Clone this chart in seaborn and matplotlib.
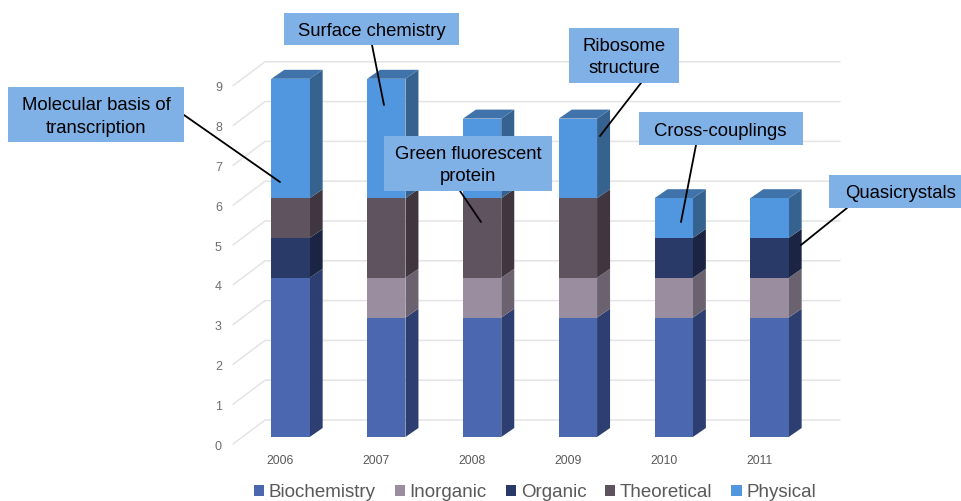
import numpy as np
import matplotlib
matplotlib.use("Agg")
import matplotlib.pyplot as plt
from matplotlib.patches import Polygon, Rectangle
from matplotlib.lines import Line2D
from matplotlib.transforms import ScaledTranslation
import seaborn as sns

sns.set_style("white")
plt.rcParams['font.family'] = ['Liberation Sans', 'DejaVu Sans']

years = ["2006", "2007", "2008", "2009", "2010", "2011"]
biochemistry = [4, 3, 3, 3, 3, 3]
inorganic = [0, 1, 1, 1, 1, 1]
organic = [1, 0, 0, 0, 1, 1]
theoretical = [1, 2, 2, 2, 0, 0]
physical = [3, 3, 2, 2, 1, 1]

names = ["Biochemistry", "Inorganic", "Organic", "Theoretical", "Physical"]
series = [biochemistry, inorganic, organic, theoretical, physical]
front = ["#4A67AF", "#9B8DA0", "#2A3A68", "#5F535F", "#5097DF"]
side = ["#2C3F70", "#6B6270", "#1B2443", "#3F363F", "#36628F"]
top_colour = "#3F73A9"
yticks = list(range(10))

W, H = 962, 501
fig = plt.figure(figsize=(W / 100, H / 100), dpi=100)
L, R, T, B = 233, 840, 50, 445
ax = fig.add_axes([L / W, 1 - B / H, (R - L) / W, (B - T) / H])

XS, YS = 95.8, 39.8           # pixels per category / per unit
DX, DY = 13 / XS, 9 / YS      # bar depth
WX, WY = 32 / XS, 24 / YS     # floor depth of the wall
W0 = -7 / YS                  # front edge of the floor relative to bar base
BW = 0.40

# walls / gridlines
x0 = (L - 290.5) / XS
xe = (R - 290.5) / XS
for v in yticks:
    ax.plot([x0, x0 + WX, xe], [v + W0, v + W0 + WY, v + W0 + WY],
            color="#E4E4E4", lw=1.1, zorder=1, clip_on=False)

# stacked front faces
bottom = np.zeros(len(years))
for vals, name, c, sc in zip(series, names, front, side):
    vals = np.array(vals, float)
    sns.barplot(x=years, y=vals, bottom=bottom, color=c, saturation=1,
                width=BW, ax=ax, label=name, linewidth=0, zorder=3)
    for i, (b, v) in enumerate(zip(bottom, vals)):
        if v > 0:
            xr = i + BW / 2
            ax.add_patch(Polygon([(xr, b), (xr + DX, b + DY), (xr + DX, b + v + DY), (xr, b + v)],
                                 closed=True, fc=sc, ec="none", zorder=2.5))
    bottom = bottom + vals
for i, t in enumerate(bottom):
    xl, xr = i - BW / 2, i + BW / 2
    ax.add_patch(Polygon([(xl, t), (xr, t), (xr + DX, t + DY), (xl + DX, t + DY)],
                         closed=True, fc=top_colour, ec="none", zorder=2.5))

ax.set_xlim(x0, xe)
ax.set_ylim((437 - B) / YS, (437 - T) / YS)
ax.set_xticks(np.arange(len(years)) - 10 / XS, years)
ax.set_yticks(np.array(yticks) + W0, [str(v) for v in yticks])
ax.tick_params(axis="x", length=0, pad=7, labelsize=8.7, labelcolor="#595959")
ax.tick_params(axis="y", length=0, pad=8, labelsize=9, labelcolor="#6E6E6E")
shift = ScaledTranslation(0, -1 / 100, fig.dpi_scale_trans)
for lab in ax.get_yticklabels():
    lab.set_transform(lab.get_transform() + shift)
ax.set_xlabel("")
ax.set_ylabel("")
for s in ax.spines.values():
    s.set_visible(False)
ax.patch.set_alpha(0)

handles, labels = ax.get_legend_handles_labels()
if ax.get_legend() is not None:
    ax.get_legend().remove()
fig.legend(handles, labels, loc="center", bbox_to_anchor=(535 / W, 1 - 492.5 / H), ncol=5,
           frameon=False, fontsize=13.5, labelcolor="#595959", handlelength=0.55,
           handleheight=0.55, handletextpad=0.25, columnspacing=1.0, borderpad=0, borderaxespad=0)

# callouts: text, box (left, top, right, bottom), text centre, leader start, leader end
callouts = [
    ("Molecular basis of\ntranscription", (8, 87, 184, 142), (96, 117), (184, 115), (280, 182)),
    ("Surface chemistry", (284, 13, 459, 45), (371.5, 32), (372, 45), (384, 105)),
    ("Green fluorescent\nprotein", (384, 136, 552, 191), (468, 165.5), (460, 191), (481, 222)),
    ("Ribosome\nstructure", (569, 28, 679, 83), (624, 57.5), (641, 83), (600, 136)),
    ("Cross-couplings", (639, 112, 803, 145), (720.5, 131), (696, 145), (681, 222)),
    ("Quasicrystals", (829, 175, 962, 208), (901, 193), (847, 208), (801, 245)),
]
fx = lambda x: x / W
fy = lambda y: 1 - y / H
for txt, (l, t, r, b), c, p0, p1 in callouts:
    fig.add_artist(Line2D([fx(p0[0]), fx(p1[0])], [fy(p0[1]), fy(p1[1])],
                          color="black", lw=1.3, zorder=5))
    fig.add_artist(Rectangle((fx(l), fy(b)), (r - l) / W, (b - t) / H, fc="#7FB0E6", ec="none", zorder=6))
    fig.text(fx(c[0]), fy(c[1]), txt, ha="center", va="center",
             fontsize=13.3, color="black", linespacing=1.4, zorder=7)

fig.savefig("out.png", dpi=100)
